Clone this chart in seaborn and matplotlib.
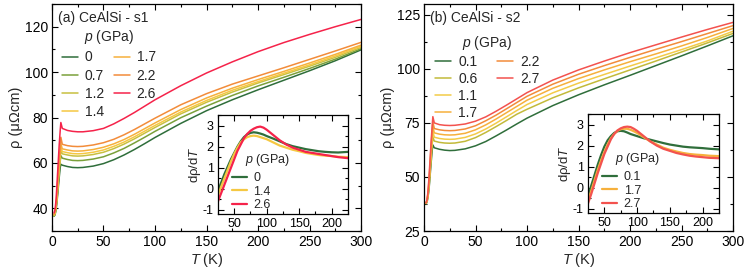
import matplotlib
matplotlib.use("Agg")
import matplotlib.pyplot as plt
import seaborn as sns
import pandas as pd
from matplotlib.lines import Line2D
from matplotlib.ticker import MultipleLocator

# temperature grid (K) used for the main panels
T = [2, 3, 4, 5, 6, 7, 8, 8.6, 10, 15, 20, 25, 30, 40, 50, 60, 70, 80, 90, 100,
     125, 150, 175, 200, 225, 250, 275, 300]

# (a) CeAlSi - s1, resistivity in uOhm cm
p_a = ["0", "0.7", "1.2", "1.4", "1.7", "2.2", "2.6"]
rho_a_0 = [36.5, 37.2, 39.5, 43.5, 48.5, 53.5, 58.0, 59.4, 59.0, 58.4, 58.0, 57.9, 58.0, 58.6,
           59.7, 61.4, 63.5, 65.9, 68.5, 71.2, 77.4, 83.0, 87.8, 92.2, 96.4, 100.6, 105.0, 109.8]
rho_a_07 = [36.6, 37.4, 40.0, 44.5, 50.0, 55.5, 60.8, 63.2, 62.1, 61.5, 61.1, 61.0, 61.1, 61.7,
            62.7, 64.4, 66.4, 68.8, 71.3, 73.9, 79.9, 85.0, 89.7, 93.9, 97.7, 101.6, 105.7, 110.3]
rho_a_12 = [36.8, 37.6, 40.5, 45.5, 51.5, 57.5, 62.5, 65.6, 64.0, 63.5, 63.1, 63.0, 63.1, 63.7,
            64.7, 66.3, 68.3, 70.6, 73.1, 75.6, 81.6, 86.7, 91.2, 95.2, 98.9, 102.6, 106.5, 110.9]
rho_a_14 = [37.0, 38.0, 41.0, 46.0, 52.0, 58.0, 63.5, 66.8, 65.0, 64.5, 64.1, 64.0, 64.1, 64.7,
            65.7, 67.3, 69.2, 71.5, 74.0, 76.5, 82.4, 87.5, 92.0, 95.8, 99.5, 103.2, 107.1, 111.4]
rho_a_17 = [37.2, 38.2, 41.5, 47.0, 53.0, 59.0, 64.5, 68.4, 66.2, 65.7, 65.3, 65.2, 65.3, 65.9,
            66.9, 68.4, 70.3, 72.6, 75.1, 77.6, 83.5, 88.6, 92.9, 96.7, 100.3, 104.0, 107.8, 111.9]
rho_a_22 = [37.5, 38.5, 42.0, 48.0, 55.0, 61.5, 67.0, 71.3, 68.2, 67.6, 67.3, 67.2, 67.3, 67.9,
            68.9, 70.4, 72.4, 74.7, 77.2, 79.7, 85.6, 90.5, 94.7, 98.3, 101.9, 105.6, 109.3, 113.1]
rho_a_26 = [38.0, 39.5, 44.0, 52.0, 60.0, 68.0, 74.5, 77.8, 75.2, 74.3, 73.9, 73.7, 73.7, 74.2,
            75.2, 77.2, 79.6, 82.2, 85.0, 87.8, 94.0, 99.6, 104.5, 109.0, 113.0, 116.6, 120.0, 123.2]

# (b) CeAlSi - s2
p_b = ["0.1", "0.6", "1.1", "1.7", "2.2", "2.7"]
rho_b_01 = [37.5, 38.5, 41.0, 45.0, 51.0, 57.0, 62.5, 64.8, 63.5, 62.8, 62.4, 62.2, 62.3, 63.0,
            64.4, 66.4, 69.0, 71.7, 74.5, 77.2, 83.0, 88.0, 92.6, 97.0, 101.5, 106.0, 110.6, 115.3]
rho_b_06 = [37.6, 38.7, 41.5, 46.0, 52.5, 59.0, 65.5, 68.5, 66.6, 66.0, 65.7, 65.6, 65.7, 66.5,
            68.2, 70.6, 73.3, 76.1, 79.0, 81.3, 86.6, 91.2, 95.4, 99.5, 103.6, 107.8, 112.0, 116.4]
rho_b_11 = [37.8, 39.0, 42.0, 47.0, 54.0, 61.0, 67.5, 71.0, 68.4, 67.8, 67.5, 67.4, 67.5, 68.3,
            69.9, 72.2, 74.9, 77.8, 80.7, 83.5, 88.9, 93.4, 97.4, 101.3, 105.1, 108.9, 112.9, 117.4]
rho_b_17 = [37.9, 39.2, 42.5, 48.0, 55.5, 63.0, 70.0, 73.2, 70.4, 69.8, 69.5, 69.4, 69.5, 70.2,
            71.8, 74.1, 76.8, 79.7, 82.6, 85.5, 91.0, 95.5, 99.5, 103.3, 106.9, 110.6, 114.5, 118.7]
rho_b_22 = [38.0, 39.4, 43.0, 49.5, 57.0, 65.0, 72.0, 75.5, 72.4, 71.8, 71.5, 71.4, 71.5, 72.2,
            73.7, 76.0, 78.6, 81.5, 84.4, 87.3, 92.9, 97.5, 101.5, 105.3, 109.0, 112.6, 116.3, 120.0]
rho_b_27 = [38.0, 39.5, 44.0, 51.0, 59.0, 67.0, 74.0, 77.9, 75.0, 74.2, 73.9, 73.8, 73.9, 74.5,
            75.8, 77.8, 80.4, 83.2, 86.1, 89.0, 94.8, 99.5, 103.6, 107.5, 111.1, 114.7, 118.2, 121.5]

# insets: d rho / dT
Ti = [25, 30, 35, 40, 45, 50, 55, 60, 65, 70, 75, 80, 85, 90, 95, 100, 110, 120, 130, 140,
      150, 160, 170, 180, 190, 200, 210, 225]
pi_a = ["0", "1.4", "2.6"]
d_a_0 = [-0.1, 0.3, 0.7, 1.05, 1.4, 1.7, 2.0, 2.25, 2.45, 2.58, 2.65, 2.68, 2.66, 2.62, 2.57, 2.5,
         2.38, 2.25, 2.12, 2.02, 1.95, 1.88, 1.83, 1.78, 1.75, 1.73, 1.72, 1.75]
d_a_14 = [-0.3, 0.1, 0.5, 0.9, 1.3, 1.65, 1.95, 2.2, 2.35, 2.45, 2.5, 2.52, 2.5, 2.45, 2.4, 2.35,
          2.2, 2.05, 1.95, 1.85, 1.78, 1.7, 1.65, 1.6, 1.57, 1.55, 1.52, 1.5]
d_a_26 = [-0.6, -0.2, 0.2, 0.6, 1.0, 1.4, 1.8, 2.1, 2.4, 2.6, 2.75, 2.85, 2.92, 2.95, 2.9, 2.8,
          2.55, 2.3, 2.1, 1.95, 1.85, 1.75, 1.7, 1.65, 1.6, 1.55, 1.5, 1.45]
pi_b = ["0.1", "1.7", "2.7"]
d_b_01 = [-0.4, 0.1, 0.6, 1.1, 1.55, 1.95, 2.25, 2.45, 2.6, 2.68, 2.7, 2.68, 2.62, 2.55, 2.5, 2.45,
          2.35, 2.28, 2.2, 2.12, 2.05, 2.0, 1.95, 1.92, 1.9, 1.88, 1.85, 1.82]
d_b_17 = [-0.6, -0.15, 0.35, 0.85, 1.3, 1.7, 2.05, 2.35, 2.55, 2.7, 2.78, 2.8, 2.8, 2.75, 2.68, 2.6,
          2.4, 2.2, 2.05, 1.9, 1.8, 1.72, 1.65, 1.6, 1.57, 1.55, 1.52, 1.5]
d_b_27 = [-0.75, -0.3, 0.2, 0.7, 1.15, 1.6, 1.95, 2.3, 2.55, 2.72, 2.82, 2.88, 2.9, 2.88, 2.8, 2.7,
          2.45, 2.2, 2.0, 1.85, 1.75, 1.65, 1.58, 1.52, 1.48, 1.45, 1.42, 1.4]

colors = {"0": "#2f6e3b", "0.1": "#2f6e3b", "0.6": "#c2ba3a", "0.7": "#7aa03a", "1.1": "#f3cb48",
          "1.2": "#c8c040", "1.4": "#f5c842", "1.7": "#f6b03c", "2.2": "#f28c3a",
          "2.6": "#f5234a", "2.7": "#f3524e"}


def long_df(xs, series, labels, ycol):
    rows = []
    for lab, ys in zip(labels, series):
        for x, y in zip(xs, ys):
            rows.append({"T": x, ycol: y, "p": lab})
    return pd.DataFrame(rows)


df_a = long_df(T, [rho_a_0, rho_a_07, rho_a_12, rho_a_14, rho_a_17, rho_a_22, rho_a_26], p_a, "rho")
df_b = long_df(T, [rho_b_01, rho_b_06, rho_b_11, rho_b_17, rho_b_22, rho_b_27], p_b, "rho")
di_a = long_df(Ti, [d_a_0, d_a_14, d_a_26], pi_a, "d")
di_b = long_df(Ti, [d_b_01, d_b_17, d_b_27], pi_b, "d")

sns.set_style("ticks")
plt.rcParams["font.family"] = ["Liberation Sans", "DejaVu Sans"]
plt.rcParams["mathtext.fontset"] = "custom"
plt.rcParams["mathtext.rm"] = "Liberation Sans"
plt.rcParams["mathtext.it"] = "Liberation Sans:italic"
plt.rcParams["axes.unicode_minus"] = False

fig = plt.figure(figsize=(7.47, 2.72), dpi=100)
ax_a = fig.add_axes([0.0696, 0.1507, 0.4137, 0.8346])
ax_b = fig.add_axes([0.5676, 0.1507, 0.4137, 0.8346])
in_a = fig.add_axes([0.2918, 0.2132, 0.174, 0.364])
in_b = fig.add_axes([0.7871, 0.2169, 0.1754, 0.364])


def style(ax, xmaj, xmin, ymaj, ymin, fs):
    ax.xaxis.set_major_locator(MultipleLocator(xmaj))
    ax.xaxis.set_minor_locator(MultipleLocator(xmin))
    ax.yaxis.set_major_locator(MultipleLocator(ymaj))
    ax.yaxis.set_minor_locator(MultipleLocator(ymin))
    ax.tick_params(which="both", direction="in", top=True, right=True, colors="black",
                   labelsize=fs, width=0.8)
    ax.tick_params(which="major", length=4, pad=3)
    ax.tick_params(which="minor", length=2.2)
    for s in ax.spines.values():
        s.set_color("black")
        s.set_linewidth(0.9)


# main panels
sns.lineplot(data=df_a, x="T", y="rho", hue="p", hue_order=p_a, palette=colors,
             ax=ax_a, legend=False, lw=1.1)
sns.lineplot(data=df_b, x="T", y="rho", hue="p", hue_order=p_b, palette=colors,
             ax=ax_b, legend=False, lw=1.1)

panels = [(ax_a, (30, 130), 20, 10, "(a) CeAlSi - s1", p_a, (0.032, 0.893), 0.7, 0.3),
          (ax_b, (25, 130), 25, 12.5, "(b) CeAlSi - s2", p_b, (0.036, 0.87), 1.45, 0.22)]
for ax, ylim, ymaj, ymin, title, labs, anchor, colsp, labsp in panels:
    ax.set_xlim(0, 300)
    ax.set_ylim(*ylim)
    style(ax, 50, 25, ymaj, ymin, 10)
    ax.set_xlabel("$T$ (K)", fontsize=10.5, labelpad=1)
    ax.set_ylabel("ρ (μΩcm)", fontsize=10.5, labelpad=1)
    ax.text(0.018, 0.937, title, transform=ax.transAxes, fontsize=10, va="center")
    handles = list(ax.get_lines()[:len(labs)])
    labels = list(labs)
    if len(labs) == 6:
        handles += [Line2D([], [], color="none")] * 2
        labels += ["", ""]
    ax.legend(handles, labels, title="$p$ (GPa)", ncol=2, loc="upper left",
              bbox_to_anchor=anchor, frameon=False, fontsize=10, title_fontsize=10,
              handlelength=1.15, handletextpad=0.5, columnspacing=colsp, labelspacing=labsp,
              borderaxespad=0, borderpad=0)

# insets
sns.lineplot(data=di_a, x="T", y="d", hue="p", hue_order=pi_a, palette=colors,
             ax=in_a, legend=False, lw=1.6)
sns.lineplot(data=di_b, x="T", y="d", hue="p", hue_order=pi_b, palette=colors,
             ax=in_b, legend=False, lw=1.6)

for ax, labs in [(in_a, pi_a), (in_b, pi_b)]:
    ax.set_xlim(25, 225)
    ax.set_ylim(-1.2, 3.5)
    style(ax, 50, 25, 1, 0.5, 9)
    ax.set_xlabel("")
    ax.set_ylabel("dρ/d$T$", fontsize=9.5, labelpad=0)
    ax.text(0.205, 0.545, "$p$ (GPa)", transform=ax.transAxes, fontsize=9, va="center")
    ax.legend(ax.get_lines()[:3], labs, loc="lower left",
              bbox_to_anchor=(0.11, 0.03), frameon=False, fontsize=9,
              handlelength=1.2, handletextpad=0.5, labelspacing=0.12,
              borderaxespad=0, borderpad=0)

fig.savefig("out.png", dpi=100)
